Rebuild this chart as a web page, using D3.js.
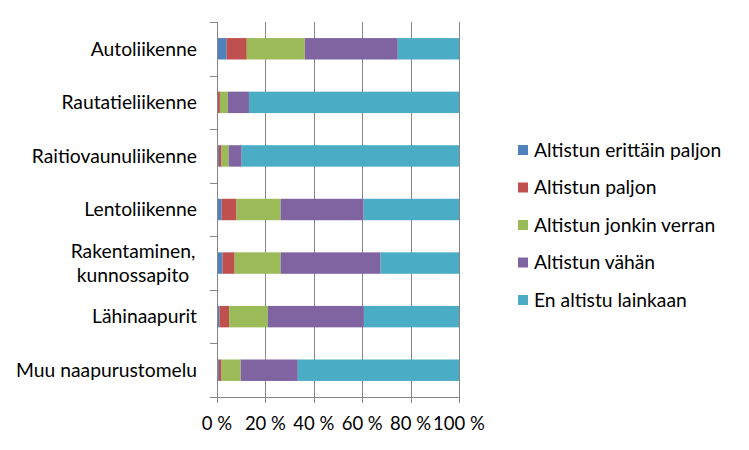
<!DOCTYPE html>
<html><head><meta charset="utf-8">
<script src="https://cdn.jsdelivr.net/npm/d3@7"></script>
<style>body{margin:0;background:#fff}svg{display:block}text{font-family:Lato,"Open Sans",sans-serif;fill:#000}</style>
</head><body><svg id="c" width="749" height="450"></svg>
<script>
const categories = ["Autoliikenne","Rautatieliikenne","Raitiovaunuliikenne","Lentoliikenne","Rakentaminen,\nkunnossapito","Lähinaapurit","Muu naapurustomelu"];
const seriesNames = ["Altistun erittäin paljon","Altistun paljon","Altistun jonkin verran","Altistun vähän","En altistu lainkaan"];
const erittainPaljon = [4.0, 0.2, 0.8, 1.9, 2.3, 1.0, 0.8];
const paljon =        [8.3, 1.0, 1.1, 6.2, 5.0, 4.0, 1.1];
const jonkinVerran =  [24.0, 3.3, 2.9, 18.2, 19.0, 16.0, 7.9];
const vahan =         [38.4, 8.7, 5.4, 34.3, 41.3, 39.7, 23.6];
const eiLainkaan =    [25.3, 86.8, 89.8, 39.4, 32.4, 39.3, 66.6];
const colors = ["#4F81BD","#C0504D","#9BBB59","#8064A2","#4BACC6"];
const xTicks = [0,20,40,60,80,100];

(function(){
const svg = d3.select("#c");
const pL = 217, pR = 459, pT = 22, pB = 397;
const rows = categories.map((c,i)=>{
  const vals=[erittainPaljon[i],paljon[i],jonkinVerran[i],vahan[i],eiLainkaan[i]];
  const tot=d3.sum(vals);
  const o={cat:c}; seriesNames.forEach((s,j)=>o[s]=vals[j]/tot*100); return o;
});
const stack = d3.stack().keys(seriesNames)(rows);
const x = d3.scaleLinear().domain([0,100]).range([pL,pR]);
const y = d3.scaleBand().domain(categories).range([pT,pB]);
const barH = y.step()/2.5;
const gridColor = "#868686";

svg.append("g").selectAll("line").data(xTicks).join("line")
  .attr("x1",d=>Math.round(x(d))+0.5).attr("x2",d=>Math.round(x(d))+0.5)
  .attr("y1",pT).attr("y2",pB+6)
  .attr("stroke",gridColor).attr("stroke-width",1);

svg.append("g").selectAll("g").data(stack).join("g").attr("fill",(d,i)=>colors[i])
  .selectAll("rect").data(d=>d).join("rect")
  .attr("x",d=>x(d[0])).attr("width",d=>x(d[1])-x(d[0]))
  .attr("y",d=>y(d.data.cat)+(y.step()-barH)/2).attr("height",barH);

svg.append("line").attr("x1",pL+0.5).attr("x2",pL+0.5).attr("y1",pT).attr("y2",pB+6).attr("stroke",gridColor);
svg.append("line").attr("x1",pL-7).attr("x2",pR+1).attr("y1",Math.round(pB)+0.5).attr("y2",Math.round(pB)+0.5).attr("stroke",gridColor);
const bounds = categories.map(c=>y(c)).concat([pB]);
svg.append("g").selectAll("line").data(bounds).join("line")
  .attr("x1",pL-7).attr("x2",pL).attr("y1",d=>Math.round(d)+0.5).attr("y2",d=>Math.round(d)+0.5).attr("stroke",gridColor);

const fs = 19.3;
categories.forEach(c=>{
  const lines=c.split("\n");
  const cy=y(c)+y.step()/2;
  const lh=24;
  const t=svg.append("text").attr("font-size",fs).attr("text-anchor",lines.length>1?"middle":"end");
  const cx = lines.length>1 ? 133 : 197;
  lines.forEach((l,i)=>{
    t.append("tspan").attr("x",cx).attr("y",cy+(i-(lines.length-1)/2)*lh).attr("dy","0.35em").text(l);
  });
});

svg.append("g").selectAll("text").data(xTicks).join("text")
  .attr("x",d=>x(d)).attr("y",430).attr("text-anchor","middle").attr("font-size",18.5)
  .text(d=>d+" %");

const lg = svg.append("g").selectAll("g").data(seriesNames).join("g")
  .attr("transform",(d,i)=>`translate(518,${150+i*37.5})`);
lg.append("rect").attr("x",0).attr("y",-5).attr("width",10).attr("height",10).attr("fill",(d,i)=>colors[i]);
lg.append("text").attr("x",16).attr("dy","0.35em").attr("font-size",fs).text(d=>d);
})();
</script></body></html>
